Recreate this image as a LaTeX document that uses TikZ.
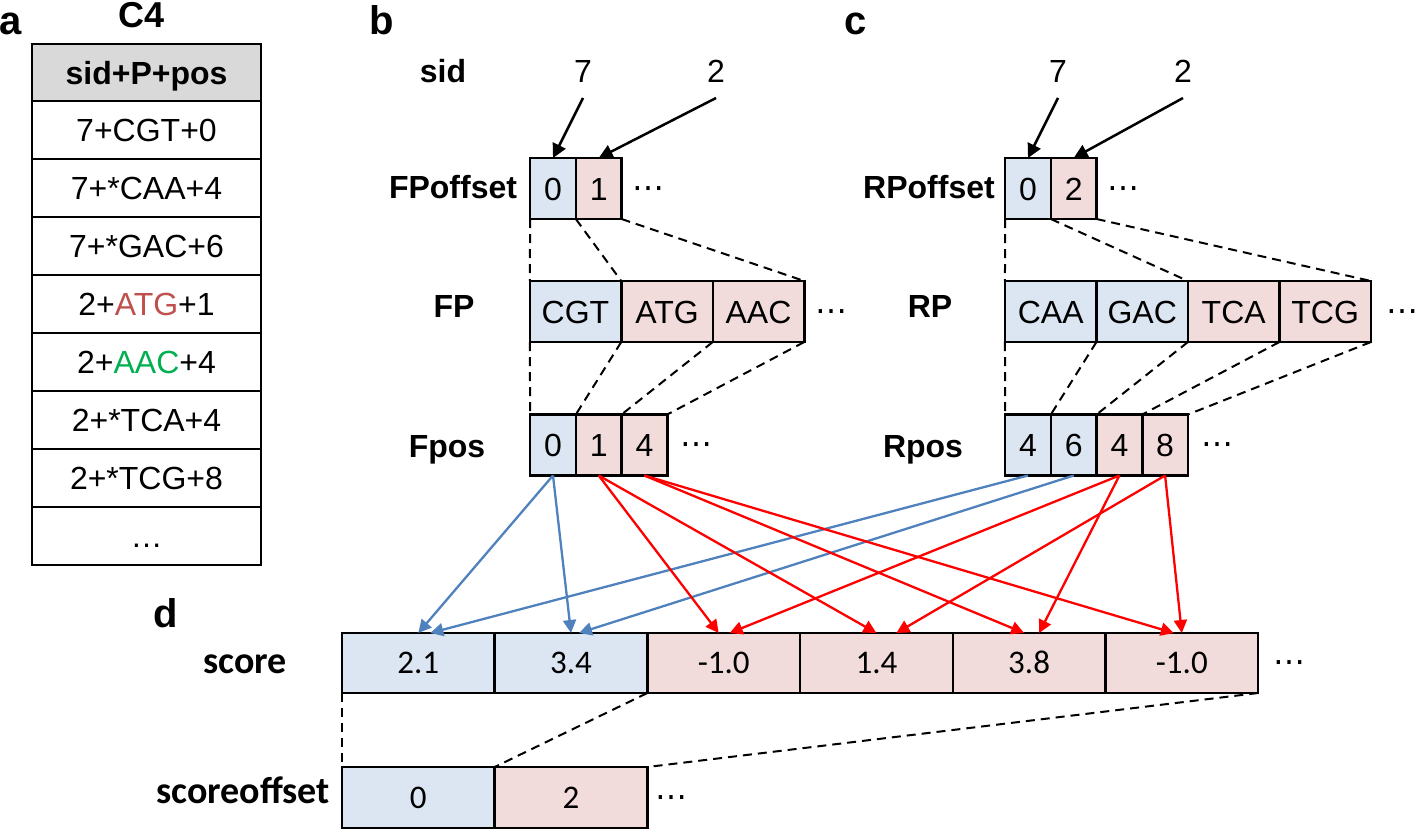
\documentclass[tikz,border=0pt]{standalone}
\usepackage{fontspec}
\setmainfont{Liberation Sans}
\newfontfamily\scorefont{Carlito}
\newfontfamily\dotsfont{DejaVu Sans}
\usepackage{xcolor}
\usetikzlibrary{positioning}
\usetikzlibrary{arrows.meta}
\definecolor{cellblue}{HTML}{DCE6F2}
\definecolor{cellpink}{HTML}{F2DCDB}
\definecolor{headgray}{HTML}{D9D9D9}
\definecolor{linkblue}{HTML}{4F81BD}
\definecolor{atgred}{HTML}{C0504D}
\definecolor{aacgreen}{HTML}{00B050}
\tikzstyle{cell} = [rectangle, draw=black, line width=2.5pt, outer sep=0pt, inner sep=0pt, minimum height=61pt, text height=23pt, text depth=0pt, font=\fontsize{32}{36}\selectfont]
\tikzstyle{short} = [cell, minimum width=45.7pt]
\tikzstyle{long} = [cell, minimum width=91.5pt]
\tikzstyle{scorecell} = [cell, minimum width=152.7pt, minimum height=60pt, text height=21pt, font=\scorefont\fontsize{33}{36}\selectfont]
\tikzstyle{tablerow} = [cell, minimum width=229pt, minimum height=58pt]
\tikzstyle{tablehead} = [tablerow, minimum height=57pt, fill=headgray, font=\bfseries\fontsize{32}{36}\selectfont]
\tikzstyle{rowname} = [anchor=base, inner sep=0pt, font=\bfseries\fontsize{32}{36}\selectfont]
\tikzstyle{scorename} = [anchor=base, inner sep=0pt, font=\scorefont\bfseries\fontsize{38}{42}\selectfont]
\tikzstyle{panel} = [anchor=base, inner sep=0pt, font=\bfseries\fontsize{40}{44}\selectfont]
\tikzstyle{sidnum} = [anchor=base, inner sep=0pt, outer sep=16pt, font=\fontsize{32}{36}\selectfont]
\tikzstyle{more} = [inner sep=0pt, yshift=-4pt, font=\dotsfont\fontsize{32}{36}\selectfont]
\tikzstyle{dashlink} = [line width=2pt, dash pattern=on 9pt off 6pt]
\tikzstyle{arrow} = [line width=2.5pt, -{Triangle[length=14pt, width=14pt]}]
\tikzstyle{bluearrow} = [line width=2.3pt, draw=linkblue, -{Triangle[length=13pt, width=13pt]}]
\tikzstyle{redarrow} = [line width=2.3pt, draw=red, -{Triangle[length=13pt, width=13pt]}]

\begin{document}
\begin{tikzpicture}[x=1pt, y=-1pt]
    \useasboundingbox (0,0) rectangle (1416,830);

    % panel letters
    \node (pa) [panel] at (11,34) {a};
    \node (pb) [panel] at (382,34) {b};
    \node (pc) [panel] at (856,34) {c};
    \node (pd) [panel] at (166,627) {d};

    % a: table C4
    \node (title) [anchor=base, font=\bfseries\fontsize{36}{40}\selectfont] at (142,27) {C4};
    \node (hdr) [tablehead] at (146.5,72.5) {sid+P+pos};
    \node (r1) [tablerow, below=0pt of hdr] {7+CGT+0};
    \node (r2) [tablerow, below=0pt of r1] {7+*CAA+4};
    \node (r3) [tablerow, below=0pt of r2] {7+*GAC+6};
    \node (r4) [tablerow, below=0pt of r3] {2+\textcolor{atgred}{ATG}+1};
    \node (r5) [tablerow, below=0pt of r4] {2+\textcolor{aacgreen}{AAC}+4};
    \node (r6) [tablerow, below=0pt of r5] {2+*TCA+4};
    \node (r7) [tablerow, below=0pt of r6] {2+*TCG+8};
    \node (r8) [tablerow, below=0pt of r7] {\ldots};

    % b: forward side
    \node (sidname) [rowname] at (443,82) {sid};
    \node (fsid7) [sidnum] at (583,82) {7};
    \node (fsid2) [sidnum] at (716,82) {2};
    \node (foname) [rowname] at (453,198) {FPoffset};
    \node (fo0) [short, fill=cellblue] at (553,188.5) {0};
    \node (fo1) [short, fill=cellpink, right=0pt of fo0] {1};
    \node (fomore) [more, right=11pt of fo1] {⋯};
    \node (fpname) [rowname] at (454,317) {FP};
    \node (fp0) [long, fill=cellblue] at (575.5,311.5) {CGT};
    \node (fp1) [long, fill=cellpink, right=0pt of fp0] {ATG};
    \node (fp2) [long, fill=cellpink, right=0pt of fp1] {AAC};
    \node (fpmore) [more, right=11pt of fp2] {⋯};
    \node (fqname) [rowname] at (447,457) {Fpos};
    \node (fq0) [short, fill=cellblue] at (553,445) {0};
    \node (fq1) [short, fill=cellpink, right=0pt of fq0] {1};
    \node (fq2) [short, fill=cellpink, right=0pt of fq1] {4};
    \node (fqmore) [more, right=13pt of fq2] {⋯};

    % c: reverse side
    \node (rsid7) [sidnum] at (1058,82) {7};
    \node (rsid2) [sidnum] at (1183,82) {2};
    \node (roname) [rowname] at (929,198) {RPoffset};
    \node (ro0) [short, fill=cellblue] at (1028,188.5) {0};
    \node (ro1) [short, fill=cellpink, right=0pt of ro0] {2};
    \node (romore) [more, right=11pt of ro1] {⋯};
    \node (rpname) [rowname] at (930,317) {RP};
    \node (rp0) [long, fill=cellblue] at (1050.7,311.5) {CAA};
    \node (rp1) [long, fill=cellblue, right=0pt of rp0] {GAC};
    \node (rp2) [long, fill=cellpink, right=0pt of rp1] {TCA};
    \node (rp3) [long, fill=cellpink, right=0pt of rp2] {TCG};
    \node (rpmore) [more, right=15pt of rp3] {⋯};
    \node (rqname) [rowname] at (923,457) {Rpos};
    \node (rq0) [short, fill=cellblue] at (1028,445) {4};
    \node (rq1) [short, fill=cellblue, right=0pt of rq0] {6};
    \node (rq2) [short, fill=cellpink, right=0pt of rq1] {4};
    \node (rq3) [short, fill=cellpink, right=0pt of rq2] {8};
    \node (rqmore) [more, right=13pt of rq3] {⋯};

    % d: scores
    \node (scname) [scorename] at (245,673) {score};
    \node (s0) [scorecell, fill=cellblue] at (418.3,663) {2.1};
    \node (s1) [scorecell, fill=cellblue, right=0pt of s0] {3.4};
    \node (s2) [scorecell, fill=cellpink, right=0pt of s1] {-1.0};
    \node (s3) [scorecell, fill=cellpink, right=0pt of s2] {1.4};
    \node (s4) [scorecell, fill=cellpink, right=0pt of s3] {3.8};
    \node (s5) [scorecell, fill=cellpink, right=0pt of s4] {-1.0};
    \node (smore) [more, right=15pt of s5] {⋯};
    \node (soname) [scorename] at (243,803) {scoreoffset};
    \node (so0) [scorecell, minimum height=61pt, fill=cellblue] at (418.3,797.5) {0};
    \node (so1) [scorecell, minimum height=61pt, fill=cellpink, right=0pt of so0] {2};
    \node (somore) [more, right=8pt of so1] {⋯};

    % sid arrows
    \draw [arrow] (fsid7.south) -- (fo0.north);
    \draw [arrow] (fsid2.south) -- (fo1.north);
    \draw [arrow] (rsid7.south) -- (ro0.north);
    \draw [arrow] (rsid2.south) -- (ro1.north);

    % offsets into arrays
    \draw [dashlink] (fo0.south west) -- (fp0.north west);
    \draw [dashlink] (fo1.south west) -- (fp1.north west);
    \draw [dashlink] (fo1.south east) -- (fp2.north east);
    \draw [dashlink] (fp0.south west) -- (fq0.north west);
    \draw [dashlink] (fp1.south west) -- (fq1.north west);
    \draw [dashlink] (fp2.south west) -- (fq2.north west);
    \draw [dashlink] (fp2.south east) -- (fq2.north east);
    \draw [dashlink] (ro0.south west) -- (rp0.north west);
    \draw [dashlink] (ro1.south west) -- (rp2.north west);
    \draw [dashlink] (ro1.south east) -- (rp3.north east);
    \draw [dashlink] (rp0.south west) -- (rq0.north west);
    \draw [dashlink] (rp1.south west) -- (rq1.north west);
    \draw [dashlink] (rp2.south west) -- (rq2.north west);
    \draw [dashlink] (rp3.south west) -- (rq3.north west);
    \draw [dashlink] (rp3.south east) -- (rq3.north east);
    \draw [dashlink] (s0.south west) -- (so0.north west);
    \draw [dashlink] (s2.south west) -- (so1.north west);
    \draw [dashlink] (s5.south east) -- (so1.north east);

    % position pairs to scores
    \draw [bluearrow] (fq0.south) -- (s0.north);
    \draw [bluearrow] (fq0.south) -- (s1.north);
    \draw [bluearrow] (rq0.south) -- ([xshift=12pt]s0.north);
    \draw [bluearrow] (rq1.south) -- ([xshift=8pt]s1.north);
    \draw [redarrow] (fq1.south) -- ([xshift=-5pt]s2.north);
    \draw [redarrow] (fq1.south) -- (s3.north);
    \draw [redarrow] (fq2.south) -- ([xshift=-5pt]s4.north);
    \draw [redarrow] (fq2.south) -- ([xshift=-8pt]s5.north);
    \draw [redarrow] (rq2.south) -- ([xshift=6pt]s2.north);
    \draw [redarrow] (rq2.south) -- ([xshift=10pt]s4.north);
    \draw [redarrow] (rq3.south) -- ([xshift=20pt]s3.north);
    \draw [redarrow] (rq3.south) -- (s5.north);
\end{tikzpicture}
\end{document}
